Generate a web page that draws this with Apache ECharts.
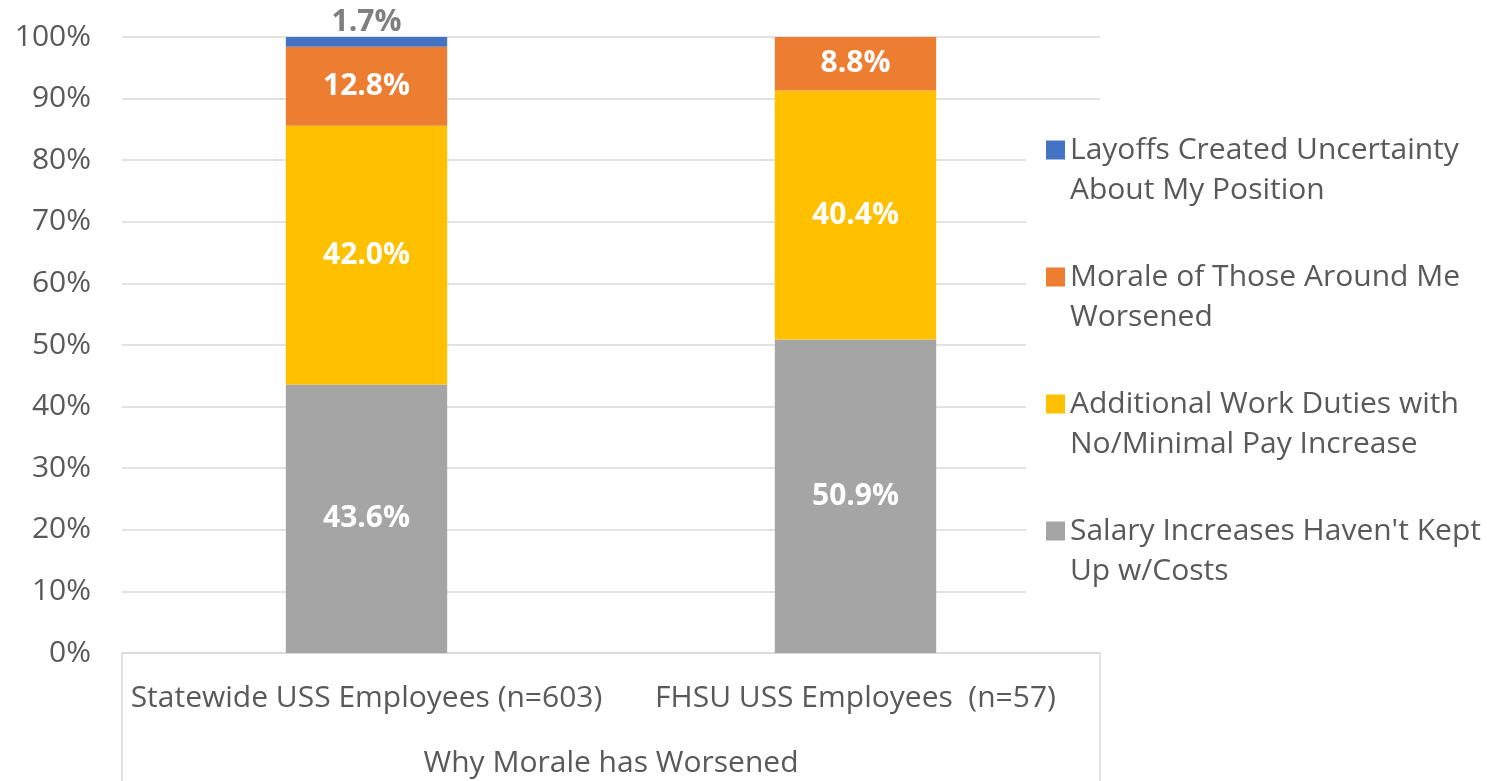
<!DOCTYPE html>
<html><head><meta charset="utf-8">
<script src="https://cdn.jsdelivr.net/npm/echarts@6/dist/echarts.min.js"></script>
<style>html,body{margin:0;padding:0;background:#fff}#c{width:1487px;height:781px}</style>
</head><body><div id="c"></div>
<script>
const categories = ['Statewide USS Employees (n=603)', 'FHSU USS Employees  (n=57)'];
const groupLabel = ['Why Morale has Worsened'];
const salary = [43.6, 50.9];
const additional = [42.0, 40.4];
const morale = [12.8, 8.8];
const layoffs = [1.7, 0];
const seriesNames = [
  'Salary Increases Haven\'t Kept Up w/Costs',
  'Additional Work Duties with No/Minimal Pay Increase',
  'Morale of Those Around Me Worsened',
  'Layoffs Created Uncertainty About My Position'
];
const legendLines = {
  'Layoffs Created Uncertainty About My Position': ['Layoffs Created Uncertainty', 'About My Position'],
  'Morale of Those Around Me Worsened': ['Morale of Those Around Me', 'Worsened'],
  'Additional Work Duties with No/Minimal Pay Increase': ['Additional Work Duties with', 'No/Minimal Pay Increase'],
  'Salary Increases Haven\'t Kept Up w/Costs': ['Salary Increases Haven\'t Kept', 'Up w/Costs']
};
const colors = ['#a5a5a5', '#ffc000', '#ed7d31', '#4472c4'];
const FONT = 'Open Sans';
const TXT = '#595959';
const FS = 30;

const chart = echarts.init(document.getElementById('c'), null, {renderer: 'canvas'});
const fmt = p => p.value ? p.value.toFixed(1) + '%' : '';
function mk(name, data, color, labelCfg) {
  return {
    name, type: 'bar', stack: 'all', data, barWidth: '33%',
    itemStyle: {color},
    label: Object.assign({show: true, position: 'inside', formatter: fmt, color: '#fff',
      fontFamily: FONT, fontSize: FS, fontWeight: 'bold'}, labelCfg || {})
  };
}
chart.setOption({
  animation: false,
  textStyle: {fontFamily: FONT},
  grid: {left: 122, right: 387, top: 37, bottom: 128, containLabel: false},
  xAxis: [{
    type: 'category', data: categories,
    axisLine: {lineStyle: {color: '#d9d9d9', width: 1.5}},
    axisTick: {show: false},
    axisLabel: {color: TXT, fontSize: FS, fontFamily: FONT, margin: 30, interval: 0}
  }, {
    type: 'category', data: groupLabel, position: 'bottom',
    axisLine: {show: false},
    axisTick: {show: true, length: 130, lineStyle: {color: '#d9d9d9', width: 1.5}},
    axisLabel: {color: TXT, fontSize: FS, fontFamily: FONT, margin: 95},
    splitLine: {show: false}
  }],
  yAxis: {
    type: 'value', min: 0, max: 100, interval: 10,
    axisLine: {show: false}, axisTick: {show: false},
    axisLabel: {formatter: '{value}%', color: TXT, fontSize: FS, fontFamily: FONT, margin: 31},
    splitLine: {lineStyle: {color: '#d9d9d9', width: 1.5}}
  },
  legend: {
    orient: 'vertical', left: 1046, top: 90, padding: 0,
    itemWidth: 19, itemHeight: 19, itemGap: 7, icon: 'rect',
    data: seriesNames.slice().reverse(),
    formatter: n => '\n' + legendLines[n][0] + '\n' + legendLines[n][1],
    textStyle: {color: TXT, fontSize: FS, fontFamily: FONT, lineHeight: 40}
  },
  graphic: [{type: 'rect', z: 3, shape: {x: 1026, y: 120, width: 76, height: 490}, style: {fill: '#fff'}}],
  series: [
    mk(seriesNames[0], salary, colors[0]),
    mk(seriesNames[1], additional, colors[1]),
    mk(seriesNames[2], morale, colors[2]),
    mk(seriesNames[3], layoffs, colors[3], {position: 'top', color: '#7f7f7f', distance: 0})
  ]
});
</script></body></html>
